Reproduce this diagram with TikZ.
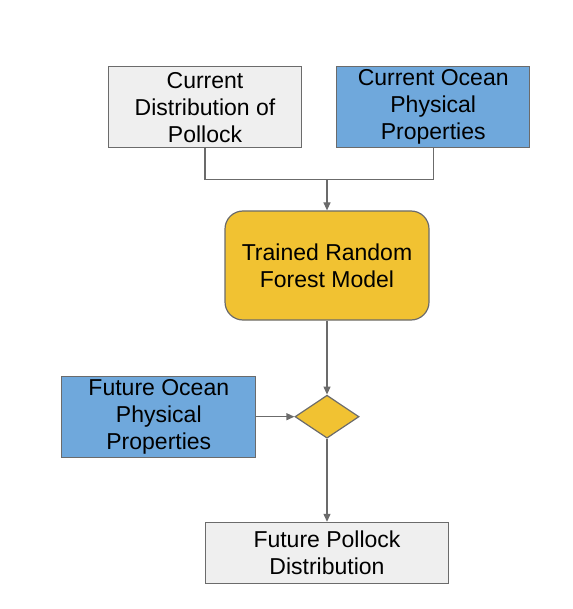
\documentclass[tikz,border=0pt]{standalone}
\usepackage{fontspec}
\setmainfont{Liberation Sans}
\usepackage{tikz}
\usetikzlibrary{positioning, calc, shapes.geometric, arrows.meta}
\definecolor{boxGray}{HTML}{EFEFEF}
\definecolor{oceanBlue}{HTML}{6FA8DC}
\definecolor{modelGold}{HTML}{F1C232}
\definecolor{lineGray}{HTML}{6B6B6B}
\tikzstyle{Arrow} = [
    draw = lineGray,
    line width = 1.2pt,
    -{Triangle[length=8pt, width=7pt]}
]
\tikzstyle{Line} = [
    draw = lineGray,
    line width = 1.2pt
]

\begin{document}
\begin{tikzpicture}[
x = 1pt, y = 1pt,
box/.style={
    rectangle,
    draw = lineGray,
    line width = 1.2pt,
    align = center,
    inner sep = 0pt,
    font = \fontsize{23}{27}\selectfont
    },
model/.style={
    box,
    rounded corners = 18pt,
    fill = modelGold,
    minimum width = 204pt,
    minimum height = 109pt
    },
decision/.style={
    diamond,
    draw = lineGray,
    line width = 1.2pt,
    fill = modelGold,
    inner sep = 0pt,
    minimum width = 64pt,
    minimum height = 43pt
    }
]
\useasboundingbox (0,0) rectangle (572,-609);

\node [model] (rf) at (327,-265.5) {Trained Random\\Forest Model};
\node [box, fill = boxGray, minimum width = 193pt, minimum height = 81pt,
    above = 62pt of rf, xshift = -122pt] (pollock) {Current\\Distribution of\\Pollock};
\node [box, fill = oceanBlue, minimum width = 193pt, minimum height = 81pt,
    right = 34pt of pollock] (ocean) {Current Ocean\\Physical\\Properties};
\coordinate [above = 31pt of rf] (merge);
\node [decision, below = 74pt of rf] (dia) {};
\node [box, fill = oceanBlue, minimum width = 194pt, minimum height = 81pt,
    left = 38pt of dia] (future) {Future Ocean\\Physical\\Properties};
\node [box, fill = boxGray, minimum width = 243pt, minimum height = 61pt,
    below = 83pt of dia] (result) {Future Pollock\\Distribution};

\draw[Line] (pollock.south) |- (merge) -| (ocean.south);
\draw[Arrow] (merge) -- (rf.north);

\draw[Arrow] (rf.south) -- (dia.north);
\draw[Arrow] (future.east) -- (dia.west);

\draw[Arrow] (dia.south) -- (result.north);

\end{tikzpicture}
\end{document}
